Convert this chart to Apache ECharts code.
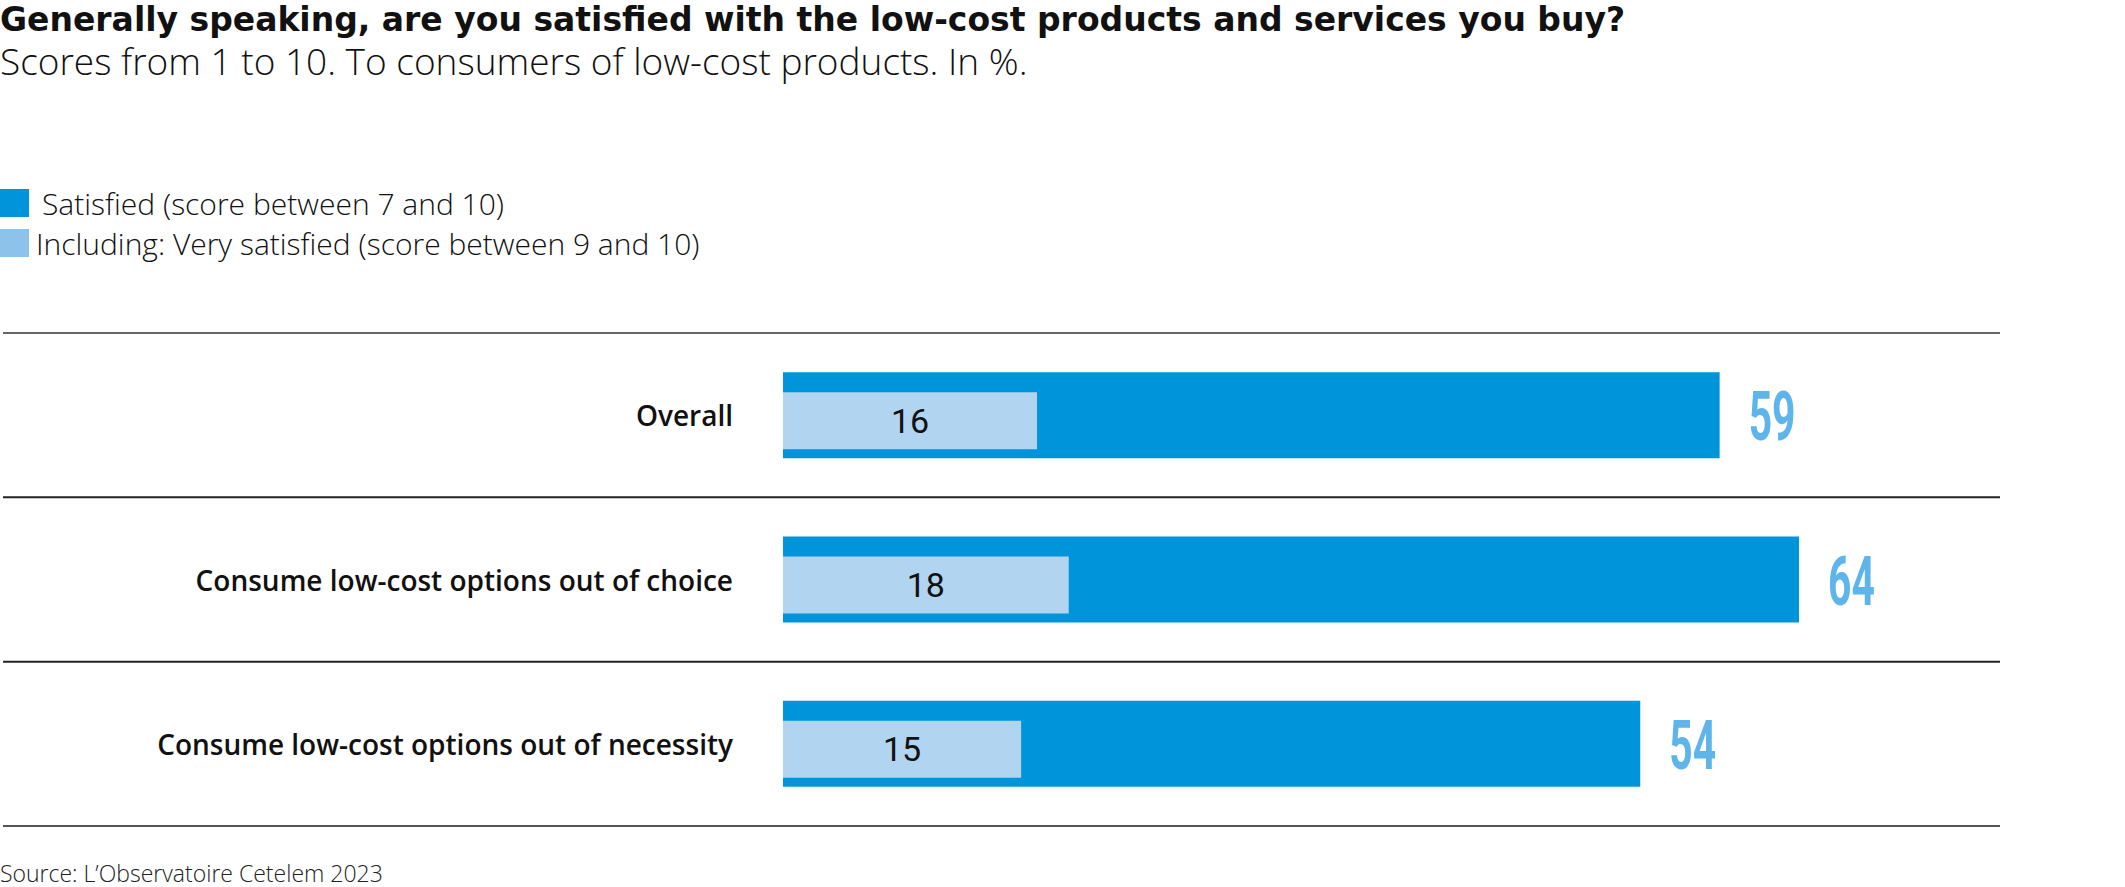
<!DOCTYPE html>
<html><head><meta charset="utf-8">
<script src="https://cdn.jsdelivr.net/npm/echarts@6/dist/echarts.min.js"></script>
<style>html,body{margin:0;padding:0;background:#fff}#c{width:2125px;height:887px}</style>
</head><body><div id="c"></div>
<script>
const categories = ['Overall', 'Consume low-cost options out of choice', 'Consume low-cost options out of necessity'];
const satisfied = [59, 64, 54];
const verySatisfied = [16, 18, 15];
const seriesNames = ['Satisfied (score between 7 and 10)', 'Including: Very satisfied (score between 9 and 10)'];
const titleText = 'Generally speaking, are you satisfied with the low-cost products and services you buy?';
const subtitleText = 'Scores from 1 to 10. To consumers of low-cost products. In %.';
const sourceText = 'Source: L\u2019Observatoire Cetelem 2023';

const DARK = '#0095DA', LIGHT = '#B1D4F0', LIGHT_LEGEND = '#8DC3EA', VALUE = '#5DB5EA';

const chart = echarts.init(document.getElementById('c'), null, {renderer: 'svg'});

const lightData = verySatisfied.map((v, i) => [v, i]);
const valueData = satisfied.map((v, i) => [v, i]);
const sepData = categories.map((c, i) => [0, i]);

chart.setOption({
  animation: false,
  backgroundColor: '#fff',
  title: [
    {text: titleText, left: 0, top: 3, padding: 0,
     textStyle: {fontFamily: 'DejaVu Sans', fontWeight: 'bold', fontSize: 33, color: '#111'}},
    {text: subtitleText, left: 0, top: 42, padding: 0,
     textStyle: {fontFamily: 'Open Sans', fontWeight: 300, fontSize: 37, color: '#111'}},
    {text: sourceText, left: 0, top: 861, padding: 0,
     textStyle: {fontFamily: 'Open Sans', fontWeight: 300, fontSize: 23, color: '#222'}}
  ],
  legend: {
    orient: 'vertical', left: 0, top: 188, padding: 0,
    itemWidth: 29, itemHeight: 28, itemGap: 10, icon: 'rect', selectedMode: false,
    textStyle: {fontFamily: 'Open Sans', fontWeight: 300, fontSize: 30, color: '#111'},
    data: [
      {name: seriesNames[0], itemStyle: {color: DARK}, textStyle: {padding: [0, 0, 0, 8]}},
      {name: seriesNames[1], itemStyle: {color: LIGHT_LEGEND}, textStyle: {padding: [0, 0, 0, 2]}}
    ]
  },
  grid: {left: 783, top: 333, width: 1270, height: 493, containLabel: false, outerBoundsMode: 'none'},
  xAxis: {type: 'value', min: 0, max: 80, show: false},
  yAxis: {
    type: 'category', data: categories, inverse: true,
    axisLine: {show: false}, axisTick: {show: false}, splitLine: {show: false},
    axisLabel: {margin: 50, fontFamily: 'Open Sans', fontWeight: 600, fontSize: 28, color: '#111'}
  },
  series: [
    {
      name: seriesNames[0], type: 'bar', data: satisfied, barWidth: 86,
      itemStyle: {color: DARK}, z: 2
    },
    {
      name: seriesNames[1], type: 'custom', data: lightData, z: 3,
      itemStyle: {color: LIGHT},
      encode: {x: 0, y: 1},
      renderItem: function (params, api) {
        const start = api.coord([0, api.value(1)]);
        const end = api.coord([api.value(0), api.value(1)]);
        const h = 57, off = 5.5;
        return {type: 'group', children: [
          {type: 'rect', shape: {x: start[0], y: start[1] - h / 2 + off, width: end[0] - start[0], height: h},
           style: {fill: LIGHT}},
          {type: 'text', x: (start[0] + end[0]) / 2, y: start[1] + off,
           style: {text: String(api.value(0)), fill: '#111', font: '400 34px Roboto', align: 'center', verticalAlign: 'middle'}}
        ]};
      }
    },
    {
      name: 'values', type: 'custom', data: valueData, z: 4,
      encode: {x: 0, y: 1},
      renderItem: function (params, api) {
        const end = api.coord([api.value(0), api.value(1)]);
        return {type: 'text', x: end[0] + 29, y: end[1] + 2, scaleX: 0.6, scaleY: 1,
          style: {text: String(api.value(0)), x: 0, y: 0, fill: VALUE, font: 'bold 68px Roboto', align: 'left', verticalAlign: 'middle'}};
      }
    },
    {
      name: 'separators', type: 'custom', data: sepData, z: 1, silent: true,
      encode: {x: 0, y: 1},
      renderItem: function (params, api) {
        const c = api.coord([0, api.value(1)]);
        const band = api.size([0, 1])[1];
        const i = params.dataIndex;
        const children = [{type: 'line', shape: {x1: 3, y1: c[1] - band / 2, x2: 2000, y2: c[1] - band / 2},
          style: {stroke: i === 0 ? '#666' : '#222', lineWidth: 2}}];
        if (i === categories.length - 1) {
          children.push({type: 'line', shape: {x1: 3, y1: c[1] + band / 2, x2: 2000, y2: c[1] + band / 2},
            style: {stroke: '#555', lineWidth: 2}});
        }
        return {type: 'group', children: children};
      }
    }
  ]
});
</script></body></html>
